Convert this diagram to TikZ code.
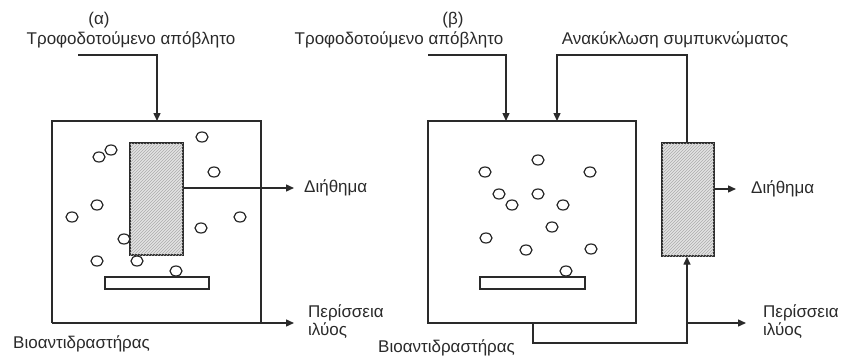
\documentclass[tikz,border=0pt]{standalone}
\usepackage{fontspec}
\setmainfont{Liberation Sans}
\usetikzlibrary{arrows.meta,patterns}
\definecolor{ink}{HTML}{2A2A2A}
\tikzset{
  ln/.style={draw=ink, line width=1.4pt},
  arr/.style={ln, -{Triangle[length=8pt,width=7pt]}},
  bub/.style={draw=ink, line width=1.2pt, fill=white},
  membr/.style={draw=ink, line width=1.4pt, fill=gray!22, postaction={pattern=north east lines, pattern color=gray!65}},
  diff/.style={draw=ink, line width=1.2pt, fill=white},
  lbl/.style={text=ink, font=\fontsize{17}{18}\selectfont, inner sep=0pt},
}
\begin{document}
\begin{tikzpicture}[x=1pt,y=-1pt]
\useasboundingbox (0,0) rectangle (841,356);
% ---------- (a) ----------
\node[lbl] (la) at (99,20) {(α)};
\node[lbl] (feedA) at (131,40) {Τροφοδοτούμενο απόβλητο};
\coordinate (fa0) at (78,55);
\coordinate (fa1) at (157,55);
\coordinate (fa2) at (157,121);
\draw[arr] (fa0) -- (fa1) -- (fa2);
\coordinate (boxAtl) at (52,121);
\coordinate (boxAtr) at (261,121);
\coordinate (boxAbl) at (52,323);
\coordinate (boxAbr) at (261,323);
\draw[ln] (boxAbl) -- (boxAtl) -- (boxAtr) -- (boxAbr);
\coordinate (sludgeA) at (294,323);
\draw[arr] (boxAbl) -- (sludgeA);
\node[membr, minimum width=53pt, minimum height=112pt, inner sep=0pt] (modA) at (156.5,199) {};
\node[diff, minimum width=104pt, minimum height=12pt, inner sep=0pt] (difA) at (157,283) {};
\coordinate (filtA) at (294,188);
\draw[arr] (modA.east |- filtA) -- (filtA);
\node[lbl, anchor=west] (dA) at (304,188) {Διήθημα};
\node[lbl, anchor=west, align=left] (pA) at (308,322) {Περίσσεια\\ιλύος};
\node[lbl, anchor=west] (bA) at (13,344) {Βιοαντιδραστήρας};
\foreach \x/\y in {99/157,111/150,202/137,214/172,72/217,97/205,240/217,201/228,124/239,97/261,137/261,176/271}
  \draw[bub] (\x,\y) ellipse (6pt and 5pt);
% ---------- (b) ----------
\node[lbl] (lb) at (453,20) {(β)};
\node[lbl] (feedB) at (399,40) {Τροφοδοτούμενο απόβλητο};
\node[lbl] (recB) at (675,40) {Ανακύκλωση συμπυκνώματος};
\coordinate (fb0) at (428,55);
\coordinate (fb1) at (506,55);
\coordinate (fb2) at (506,121);
\draw[arr] (fb0) -- (fb1) -- (fb2);
\draw[ln] (428,121) rectangle (636,323);
\node[membr, minimum width=52pt, minimum height=113pt, inner sep=0pt] (modB) at (688,199.5) {};
\coordinate (rb1) at (687,55);
\coordinate (rb2) at (557,55);
\coordinate (rb3) at (557,121);
\draw[arr] (modB.north -| rb1) -- (rb1) -- (rb2) -- (rb3);
\node[diff, minimum width=105pt, minimum height=12pt, inner sep=0pt] (difB) at (532.5,283) {};
\coordinate (filtB) at (736,189);
\draw[arr] (modB.east |- filtB) -- (filtB);
\node[lbl, anchor=west] (dB) at (751,189) {Διήθημα};
\coordinate (sb0) at (533,323);
\coordinate (sb1) at (533,343);
\coordinate (sb2) at (687,343);
\coordinate (sbj) at (687,323);
\coordinate (sludgeB) at (746,323);
\draw[arr] (sb0) -- (sb1) -- (sb2) -- (modB.south -| sb2);
\draw[arr] (sbj) -- (sludgeB);
\node[lbl, anchor=west, align=left] (pB) at (763,322) {Περίσσεια\\ιλύος};
\node[lbl, anchor=west] (bB) at (378,348) {Βιοαντιδραστήρας};
\foreach \x/\y in {485/172,538/160,590/172,499/194,512/205,538/194,563/205,552/227,486/238,526/250,591/249,566/271}
  \draw[bub] (\x,\y) ellipse (6pt and 5pt);
\end{tikzpicture}
\end{document}
